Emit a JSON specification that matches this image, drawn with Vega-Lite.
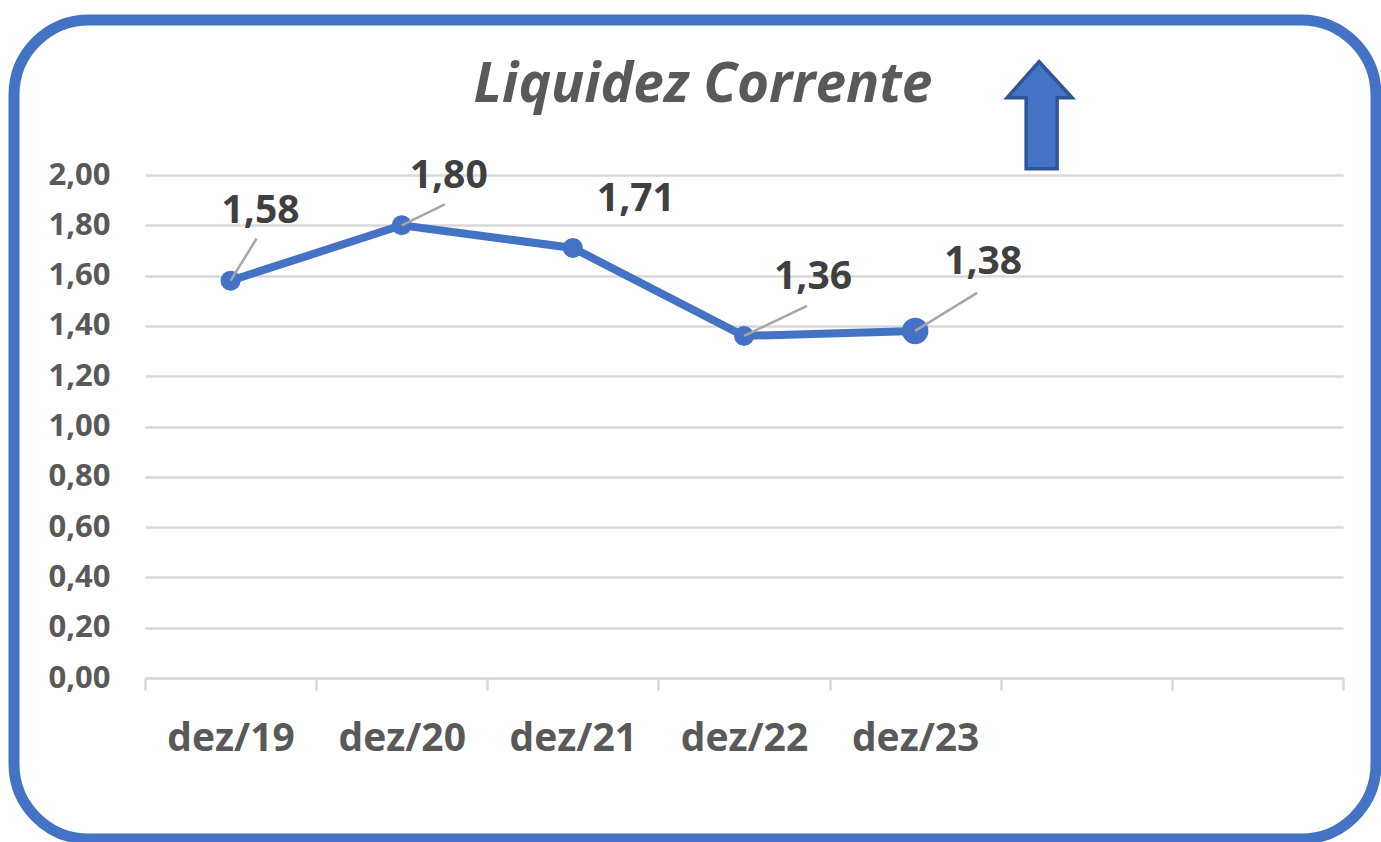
{
  "$schema": "https://vega.github.io/schema/vega-lite/v6.json",
  "width": 1362,
  "height": 819,
  "autosize": {"type": "none"},
  "padding": {"left": 14, "top": 20, "right": 5, "bottom": 3},
  "background": "white",
  "view": {"stroke": "#4472c4", "strokeWidth": 11, "cornerRadius": 75, "fill": "white"},
  "config": {
    "locale": {"number": {"decimal": ",", "thousands": ".", "grouping": [3], "currency": ["R$", ""]}}
  },
  "title": {
    "text": "Liquidez Corrente",
    "font": "Open Sans",
    "fontSize": 55,
    "fontStyle": "italic",
    "fontWeight": "bold",
    "color": "#595959",
    "anchor": "middle",
    "baseline": "alphabetic",
    "frame": "group",
    "offset": -137,
    "dx": 8
  },
  "data": {
    "values": [
      {"periodo": "dez/19", "liquidez": 1.58},
      {"periodo": "dez/20", "liquidez": 1.80},
      {"periodo": "dez/21", "liquidez": 1.71},
      {"periodo": "dez/22", "liquidez": 1.36},
      {"periodo": "dez/23", "liquidez": 1.38}
    ]
  },
  "encoding": {
    "x": {
      "field": "periodo",
      "type": "nominal",
      "sort": null,
      "scale": {
        "type": "band",
        "domain": ["dez/19", "dez/20", "dez/21", "dez/22", "dez/23", " ", "  "],
        "range": [131, 1329],
        "paddingInner": 0,
        "paddingOuter": 0
      },
      "axis": {
        "title": null,
        "offset": -161,
        "labelAngle": 0,
        "labelFont": "Open Sans",
        "labelFontSize": 39,
        "labelFontWeight": "bold",
        "labelColor": "#595959",
        "labelBaseline": "alphabetic",
        "labelPadding": 60,
        "tickBand": "extent",
        "tickSize": 12,
        "tickColor": "#d9d9d9",
        "tickWidth": 2.5,
        "domainColor": "#d9d9d9",
        "domainWidth": 2.5,
        "grid": false
      }
    },
    "y": {
      "field": "liquidez",
      "type": "quantitative",
      "scale": {"domain": [0, 2], "range": [658, 155], "nice": false, "zero": true},
      "axis": {
        "title": null,
        "offset": -131,
        "values": [0, 0.2, 0.4, 0.6, 0.8, 1, 1.2, 1.4, 1.6, 1.8, 2],
        "format": ".2f",
        "labelFont": "Open Sans",
        "labelFontSize": 31,
        "labelFontWeight": "bold",
        "labelColor": "#595959",
        "labelPadding": 35,
        "ticks": false,
        "tickSize": 0,
        "domain": false,
        "grid": true,
        "gridColor": "#d9d9d9",
        "gridWidth": 2.5
      }
    }
  },
  "layer": [
    {
      "mark": {"type": "line", "color": "#4472c4", "strokeWidth": 8}
    },
    {
      "mark": {"type": "point", "shape": "circle", "filled": true, "color": "#4472c4", "opacity": 1},
      "encoding": {
        "size": {"condition": {"test": "datum.periodo === 'dez/23'", "value": 700}, "value": 400}
      }
    },
    {
      "mark": {"type": "point", "filled": false, "stroke": "#a6a6a6", "strokeWidth": 2.5, "opacity": 1, "size": 4},
      "encoding": {
        "shape": {
          "field": "periodo",
          "type": "nominal",
          "legend": null,
          "scale": {
            "domain": ["dez/19", "dez/20", "dez/21", "dez/22", "dez/23"],
            "range": ["M0,0L26,-42", "M0,0L43,-21", "M0,0", "M0,0L63,-30", "M0,0L62,-38"]
          }
        }
      }
    },
    {
      "transform": [{"filter": "datum.periodo === 'dez/19'"}],
      "mark": {"type": "text", "font": "Open Sans", "fontSize": 39, "fontWeight": "bold", "color": "#404040", "align": "center", "baseline": "alphabetic", "dx": 30, "dy": -58},
      "encoding": {"text": {"field": "liquidez", "type": "quantitative", "format": ".2f"}}
    },
    {
      "transform": [{"filter": "datum.periodo === 'dez/20'"}],
      "mark": {"type": "text", "font": "Open Sans", "fontSize": 39, "fontWeight": "bold", "color": "#404040", "align": "center", "baseline": "alphabetic", "dx": 47, "dy": -37},
      "encoding": {"text": {"field": "liquidez", "type": "quantitative", "format": ".2f"}}
    },
    {
      "transform": [{"filter": "datum.periodo === 'dez/21'"}],
      "mark": {"type": "text", "font": "Open Sans", "fontSize": 39, "fontWeight": "bold", "color": "#404040", "align": "center", "baseline": "alphabetic", "dx": 63, "dy": -37},
      "encoding": {"text": {"field": "liquidez", "type": "quantitative", "format": ".2f"}}
    },
    {
      "transform": [{"filter": "datum.periodo === 'dez/22'"}],
      "mark": {"type": "text", "font": "Open Sans", "fontSize": 39, "fontWeight": "bold", "color": "#404040", "align": "center", "baseline": "alphabetic", "dx": 69, "dy": -47},
      "encoding": {"text": {"field": "liquidez", "type": "quantitative", "format": ".2f"}}
    },
    {
      "transform": [{"filter": "datum.periodo === 'dez/23'"}],
      "mark": {"type": "text", "font": "Open Sans", "fontSize": 39, "fontWeight": "bold", "color": "#404040", "align": "center", "baseline": "alphabetic", "dx": 68, "dy": -57},
      "encoding": {"text": {"field": "liquidez", "type": "quantitative", "format": ".2f"}}
    },
    {
      "transform": [{"filter": "datum.periodo === 'dez/23'"}],
      "mark": {"type": "point", "filled": true, "color": "#4472c4", "stroke": "#2f5597", "strokeWidth": 3.5, "opacity": 1, "size": 4, "shape": "M124,-63L157,-27L142,-27L142,44L111,44L111,-27L92,-27Z"},
      "encoding": {
        "y": {"datum": 2.2}
      }
    }
  ]
}
